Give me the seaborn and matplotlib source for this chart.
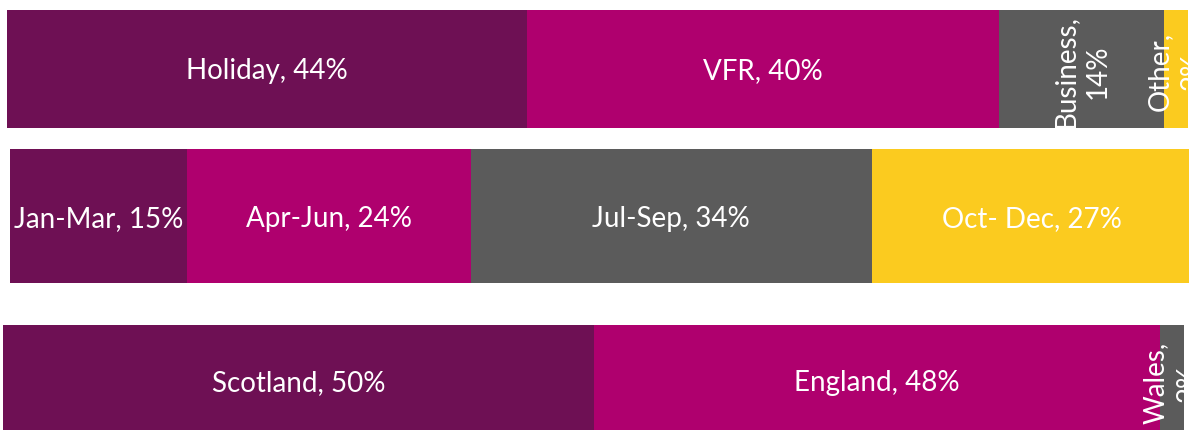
import numpy as np
import seaborn as sns
import matplotlib.pyplot as plt

# shares shown in the three stacked bars
purpose = ["Holiday", "VFR", "Business", "Other"]
purpose_pct = [44, 40, 14, 2]

quarter = ["Jan-Mar", "Apr-Jun", "Jul-Sep", "Oct- Dec"]
quarter_pct = [15, 24, 34, 27]

nation = ["Scotland", "England", "Wales"]
nation_pct = [50, 48, 2]

colours = ["#6E1054", "#AF006E", "#5B5B5B", "#FBCB1F"]

sns.set_style("white")
plt.rcParams["font.family"] = ["Lato", "DejaVu Sans"]

W, H = 1189, 430
fig = plt.figure(figsize=(W / 100, H / 100), dpi=100)

# each bar sits in its own axes (pixel boxes: left, top, bottom)
px_per_pct = 11.81
boxes = [(7, 10, 128), (10, 149, 283), (3, 325, 437)]


def stacked_bar(box, names, pct):
    left, top, bottom = box
    ax = fig.add_axes([left / W, 1 - bottom / H,
                       100 * px_per_pct / W, (bottom - top) / H])
    cum = np.cumsum(pct)
    # draw cumulative totals from the back so each segment shows
    for i in reversed(range(len(pct))):
        sns.barplot(x=[cum[i]], y=["all"], orient="h", color=colours[i],
                    width=1, saturation=1, linewidth=0, ax=ax)
    for i, (name, v) in enumerate(zip(names, pct)):
        xc = cum[i] - v / 2
        if v <= 14:
            ax.text(xc, 0.02, f"{name},\n{v}%", rotation=90, ha="center",
                    va="center", color="white", fontsize=20,
                    linespacing=1.3, clip_on=False)
        else:
            ax.text(xc, 0.02, f"{name}, {v}%", ha="center", va="center",
                    color="white", fontsize=20)
    ax.set_xlim(0, 100)
    ax.set_ylim(0.5, -0.5)
    ax.axis("off")
    return ax


stacked_bar(boxes[0], purpose, purpose_pct)
stacked_bar(boxes[1], quarter, quarter_pct)
stacked_bar(boxes[2], nation, nation_pct)

fig.savefig("out.png", dpi=100)
